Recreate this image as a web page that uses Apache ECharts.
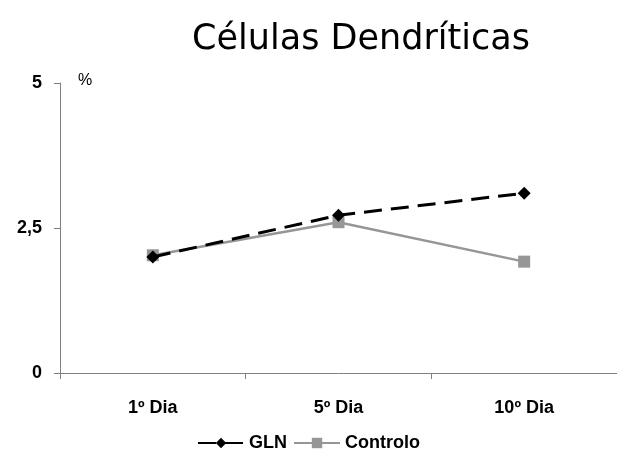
<!DOCTYPE html>
<html><head><meta charset="utf-8">
<script src="https://cdn.jsdelivr.net/npm/echarts@6/dist/echarts.min.js"></script>
<style>html,body{margin:0;padding:0;background:#fff}#c{width:617px;height:462px}</style>
</head><body><div id="c"></div>
<script>
const categories = ['1º Dia', '5º Dia', '10º Dia'];
const glnValues = [2.0, 2.72, 3.1];
const controloValues = [2.03, 2.6, 1.92];
const yTicks = [0, 2.5, 5];

const chart = echarts.init(document.getElementById('c'));
chart.setOption({
  animation: false,
  backgroundColor: '#fff',
  title: {
    text: 'Células Dendríticas',
    left: 356, top: 17, textAlign: 'center',
    textStyle: { fontFamily: '"DejaVu Sans"', fontWeight: 'normal', fontSize: 35, color: '#000' }
  },
  graphic: [{ type: 'text', left: 78, top: 73, style: { text: '%', font: '16px "Liberation Sans", Arial', fill: '#000' } }],
  legend: {
    top: 429, left: 'center',
    itemWidth: 46, itemHeight: 13, itemGap: 6,
    textStyle: { fontFamily: '"Liberation Sans", Arial', fontWeight: 'bold', fontSize: 18, color: '#000' },
    data: ['GLN', 'Controlo']
  },
  grid: { left: 60, top: 83, width: 561, height: 290 },
  xAxis: {
    type: 'category', data: categories, boundaryGap: true,
    axisLine: { lineStyle: { color: '#808080', width: 1 } },
    axisTick: { show: true, length: 6, lineStyle: { color: '#808080' } },
    axisLabel: { margin: 26, fontFamily: '"Liberation Sans", Arial', fontWeight: 'bold', fontSize: 18, color: '#000' }
  },
  yAxis: {
    type: 'value', min: 0, max: 5, interval: 2.5,
    axisLine: { show: true, lineStyle: { color: '#808080', width: 1 } },
    axisTick: { show: true, length: 6, lineStyle: { color: '#808080' } },
    splitLine: { show: false },
    axisLabel: {
      margin: 18, fontFamily: '"Liberation Sans", Arial', fontWeight: 'bold', fontSize: 18, color: '#000',
      formatter: v => yTicks.includes(v) ? String(v).replace('.', ',') : ''
    }
  },
  series: [
    {
      name: 'GLN', type: 'line', data: glnValues,
      symbol: 'diamond', symbolSize: 13, z: 3,
      itemStyle: { color: '#000' },
      lineStyle: { color: '#000', width: 3, type: [18, 9] }
    },
    {
      name: 'Controlo', type: 'line', data: controloValues,
      symbol: 'rect', symbolSize: 12, z: 2,
      itemStyle: { color: '#969696' },
      lineStyle: { color: '#969696', width: 2.5 }
    }
  ]
});
</script></body></html>
